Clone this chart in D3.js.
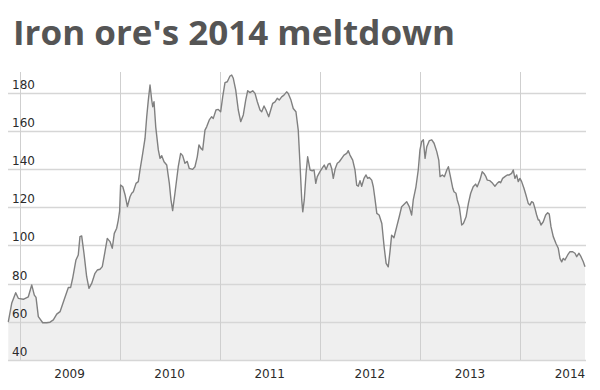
<!DOCTYPE html>
<html>
<head>
<meta charset="utf-8">
<script src="https://cdn.jsdelivr.net/npm/d3@7"></script>
<style>
  body { margin: 0; background: #fff; }
  .chart text { font-family: "DejaVu Sans", Verdana, sans-serif; }
</style>
</head>
<body>
<div class="chart"></div>
<script>
// iron ore price, US$/t (x as decimal year)
var years = [2008.888, 2008.922, 2008.962, 2008.988, 2009.038, 2009.088, 2009.122, 2009.148, 2009.165, 2009.188,
  2009.232, 2009.272, 2009.305, 2009.338, 2009.372, 2009.405, 2009.445, 2009.488, 2009.511, 2009.531,
  2009.564, 2009.587, 2009.604, 2009.621, 2009.644, 2009.671, 2009.694, 2009.721, 2009.754, 2009.777,
  2009.804, 2009.827, 2009.854, 2009.877, 2009.904, 2009.927, 2009.947, 2009.971, 2009.987, 2010.000,
  2010.010, 2010.032, 2010.055, 2010.078, 2010.104, 2010.121, 2010.137, 2010.164, 2010.187, 2010.204,
  2010.231, 2010.254, 2010.271, 2010.287, 2010.304, 2010.321, 2010.331, 2010.344, 2010.361, 2010.387,
  2010.404, 2010.421, 2010.444, 2010.471, 2010.497, 2010.513, 2010.530, 2010.553, 2010.586, 2010.610,
  2010.630, 2010.653, 2010.676, 2010.696, 2010.730, 2010.753, 2010.776, 2010.793, 2010.813, 2010.830,
  2010.853, 2010.870, 2010.896, 2010.920, 2010.936, 2010.963, 2010.986, 2011.010, 2011.030, 2011.053,
  2011.076, 2011.103, 2011.120, 2011.136, 2011.160, 2011.186, 2011.210, 2011.236, 2011.260, 2011.280,
  2011.303, 2011.330, 2011.353, 2011.376, 2011.403, 2011.420, 2011.443, 2011.463, 2011.490, 2011.510,
  2011.530, 2011.553, 2011.575, 2011.595, 2011.619, 2011.642, 2011.669, 2011.685, 2011.712, 2011.735,
  2011.762, 2011.785, 2011.802, 2011.820, 2011.830, 2011.845, 2011.863, 2011.879, 2011.903, 2011.925,
  2011.943, 2011.960, 2011.975, 2012.002, 2012.029, 2012.045, 2012.063, 2012.085, 2012.102, 2012.119,
  2012.135, 2012.155, 2012.175, 2012.195, 2012.219, 2012.242, 2012.269, 2012.285, 2012.302, 2012.329,
  2012.352, 2012.369, 2012.385, 2012.402, 2012.419, 2012.442, 2012.462, 2012.479, 2012.495, 2012.519,
  2012.535, 2012.553, 2012.570, 2012.593, 2012.620, 2012.643, 2012.663, 2012.684, 2012.701, 2012.718,
  2012.741, 2012.769, 2012.794, 2012.818, 2012.868, 2012.894, 2012.918, 2012.934, 2012.961, 2012.984,
  2013.001, 2013.018, 2013.035, 2013.052, 2013.069, 2013.095, 2013.119, 2013.142, 2013.169, 2013.189,
  2013.202, 2013.225, 2013.245, 2013.269, 2013.285, 2013.302, 2013.329, 2013.341, 2013.361, 2013.374,
  2013.394, 2013.408, 2013.418, 2013.435, 2013.462, 2013.485, 2013.508, 2013.533, 2013.557, 2013.573,
  2013.600, 2013.623, 2013.640, 2013.660, 2013.673, 2013.700, 2013.727, 2013.750, 2013.773, 2013.793,
  2013.807, 2013.827, 2013.850, 2013.873, 2013.893, 2013.917, 2013.933, 2013.950, 2013.967, 2013.983,
  2014.000, 2014.017, 2014.040, 2014.060, 2014.083, 2014.100, 2014.117, 2014.133, 2014.150, 2014.167,
  2014.183, 2014.193, 2014.210, 2014.233, 2014.257, 2014.277, 2014.293, 2014.310, 2014.333, 2014.360,
  2014.383, 2014.400, 2014.417, 2014.433, 2014.450, 2014.477, 2014.500, 2014.527, 2014.550, 2014.567,
  2014.590, 2014.610, 2014.633, 2014.650];

var prices = [60, 69.7, 75.2, 72.3, 71.8, 73.1, 79.3, 74, 72.8, 62.7,
  59.5, 59.5, 59.8, 61, 64, 65.3, 71.4, 78, 78, 82.8,
  92.4, 95, 104.6, 105, 95.9, 83.6, 77.5, 80.1, 85.4, 87.1,
  87.5, 88.9, 96.7, 103.7, 102, 98.5, 106.3, 109, 113.3, 118,
  131.6, 130.7, 126.4, 120.3, 125.5, 127.3, 128.1, 132.5, 133.4, 139.5,
  148.2, 156, 167.4, 176.1, 184, 176.1, 172.6, 175.2, 162.1, 150,
  145.6, 147, 143.8, 142.1, 132.5, 124, 118.2, 127.3, 141.2, 148.2,
  147, 143, 144, 140.3, 139.8, 141.2, 146.4, 152.6, 150.8, 150,
  160.4, 162.1, 165.7, 167.4, 166.5, 170.9, 171.2, 170, 177.8, 185.2,
  185.7, 188.7, 189.2, 187.5, 181.4, 170.9, 164.8, 168.3, 176.1, 181,
  180, 181, 179.6, 175.2, 170.9, 170, 173, 170.9, 167.4, 170.9,
  174.4, 175.2, 177, 176.1, 177.8, 178.7, 180.4, 179.6, 176.1, 171.7,
  170, 160.4, 143, 123.8, 117.6, 123.8, 137.7, 146.4, 139.5, 139.1,
  139.5, 132.5, 136, 138.6, 140.8, 142.1, 139.8, 142.6, 143, 140.3,
  135.1, 140.3, 143, 143.8, 145.6, 147.3, 148.2, 149.6, 147.3, 144.7,
  139.5, 131.6, 131, 133.9, 131, 135.1, 136.9, 135.1, 135.6, 134.2,
  130.7, 123.8, 116.8, 115.9, 111.5, 99.3, 90.6, 88.8, 96.5, 105.4,
  104, 109.8, 115, 120.3, 122.9, 120.3, 115.9, 123.8, 130.7, 139.5,
  150, 154.4, 155.3, 145.6, 151.7, 154.9, 155.3, 153.5, 149.1, 144.7,
  136, 136.9, 136, 139.5, 141.2, 136.9, 129.9, 128.1, 127.3, 123.8,
  120.3, 115, 110.7, 111.5, 115, 122, 127.3, 130.7, 132.1, 130.7,
  134.2, 138.6, 137.7, 136, 134.2, 133.9, 132.5, 131, 132.5, 133.4,
  132.8, 135.1, 136, 136.9, 136.9, 137.7, 139.5, 135.1, 136.9, 133.4,
  135.1, 133.4, 129.9, 126.4, 122, 121.1, 122.9, 122.4, 119.4, 115.9,
  113.3, 113.3, 110.7, 112.4, 115.9, 117.1, 116.4, 109.8, 104.6, 101,
  98.5, 93.2, 91.4, 93.2, 92.4, 95, 96.7, 96.7, 95.9, 94.1,
  95.9, 94.1, 91.4, 88.8];

var yearTicks = [2009, 2010, 2011, 2012, 2013, 2014];
var priceTicks = [40, 60, 80, 100, 120, 140, 160, 180];
var title = "Iron ore's 2014 meltdown";

var width = 600, height = 390,
  plot = { left: 8, right: 586, top: 72, bottom: 360 };

var data = years.map((y, i) => ({ year: y, price: prices[i] }));

var svg = d3.select('.chart')
  .append('svg')
    .attr('width', width)
    .attr('height', height);

var xScale = d3.scaleLinear()
  .domain([2008.885, 2014.66])
  .range([plot.left, plot.right]);

var yScale = d3.scaleLinear()
  .domain([40, 190.8])
  .range([plot.bottom, plot.top]);

// title
svg.append('text')
  .attr('x', 13)
  .attr('y', 45)
  .attr('textLength', 442)
  .attr('lengthAdjust', 'spacingAndGlyphs')
  .style('font-family', '"Open Sans", sans-serif')
  .style('font-weight', 'bold')
  .style('font-size', '34px')
  .style('fill', '#555')
  .text(title);

// area under the line
var area = d3.area()
  .x(d => xScale(d.year))
  .y0(yScale(40))
  .y1(d => yScale(d.price));

svg.append('path')
  .datum(data)
  .attr('d', area)
  .style('fill', '#efefef');

// horizontal grid
svg.append('g')
  .selectAll('line')
  .data(priceTicks)
  .enter()
  .append('line')
    .attr('x1', plot.left)
    .attr('x2', plot.right)
    .attr('y1', d => Math.round(yScale(d)) + 0.5)
    .attr('y2', d => Math.round(yScale(d)) + 0.5)
    .style('stroke', '#d6d6d6')
    .style('stroke-width', 1.5);

// vertical grid at year boundaries
svg.append('g')
  .selectAll('line')
  .data(yearTicks)
  .enter()
  .append('line')
    .attr('x1', d => Math.round(xScale(d)) + 0.5)
    .attr('x2', d => Math.round(xScale(d)) + 0.5)
    .attr('y1', plot.top)
    .attr('y2', plot.bottom)
    .style('stroke', '#cfcfcf')
    .style('stroke-width', 1);

// price line
var line = d3.line()
  .x(d => xScale(d.year))
  .y(d => yScale(d.price));

svg.append('path')
  .datum(data)
  .attr('d', line)
  .style('fill', 'none')
  .style('stroke', '#808080')
  .style('stroke-width', 1.4)
  .style('stroke-linejoin', 'round');

// y labels sit just above their gridline
svg.append('g')
  .selectAll('text')
  .data(priceTicks)
  .enter()
  .append('text')
    .attr('x', 12)
    .attr('y', d => yScale(d) - 4)
    .style('font-size', '12px')
    .style('fill', '#2b2b2b')
    .text(d => d);

// year labels centred in each year
svg.append('g')
  .selectAll('text')
  .data(yearTicks)
  .enter()
  .append('text')
    .attr('x', d => xScale(d + 0.5))
    .attr('y', 378)
    .style('font-size', '12px')
    .style('fill', '#2b2b2b')
    .style('text-anchor', 'middle')
    .text(d => d);
</script>
</body>
</html>
